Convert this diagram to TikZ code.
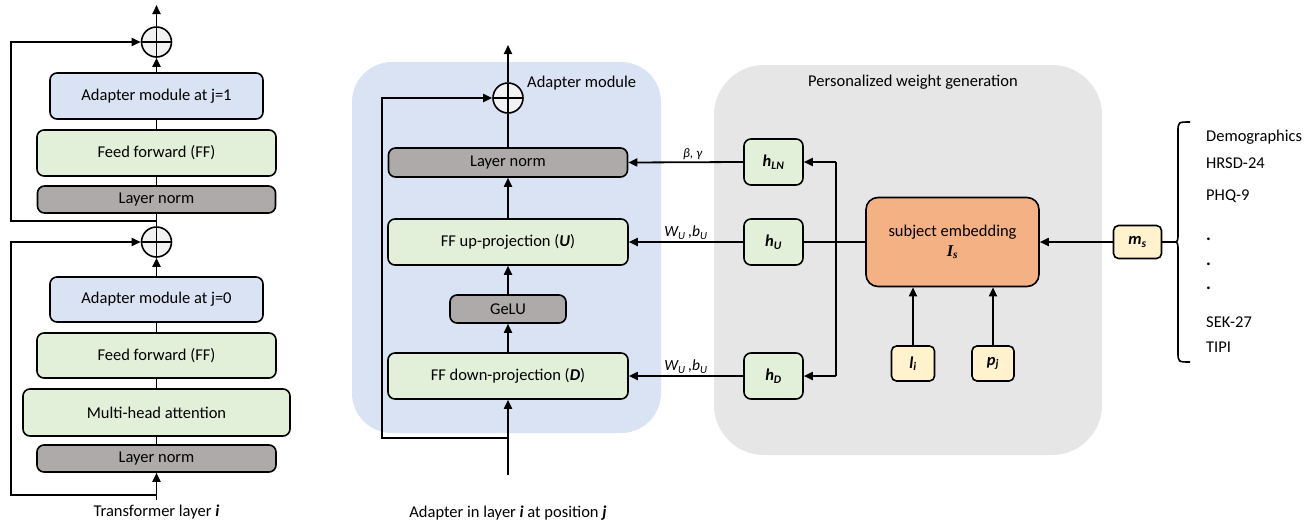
\documentclass[tikz,border=0pt]{standalone}
\usepackage{fontspec}
\setmainfont{Carlito}
\newfontfamily\tnr{Liberation Serif}
\usetikzlibrary{arrows.meta}
\definecolor{cblue}{HTML}{DAE3F3}
\definecolor{cpanel}{HTML}{DAE3F3}
\definecolor{cgreen}{HTML}{E2F0D9}
\definecolor{cgray}{HTML}{AEAAAA}
\definecolor{cgpanel}{HTML}{E6E6E6}
\definecolor{corange}{HTML}{F4B183}
\definecolor{cyellow}{HTML}{FFF2CC}
\definecolor{cplus}{HTML}{F2F2F2}
\tikzset{
  box/.style={draw, line width=1.6pt, rounded corners=7pt, align=center, inner sep=0pt, font=\fontsize{16.5}{19}\selectfont},
  bl/.style={box, fill=cblue},
  gr/.style={box, fill=cgreen},
  gy/.style={box, fill=cgray},
  yl/.style={box, fill=cyellow, rounded corners=5pt},
  pl/.style={circle, draw, line width=1.6pt, fill=cplus, minimum size=30pt, inner sep=0pt,
    path picture={\draw[line width=1.5pt] (path picture bounding box.north) -- (path picture bounding box.south) (path picture bounding box.west) -- (path picture bounding box.east);}},
  ln/.style={line width=1.8pt},
  ar/.style={line width=1.8pt, -{Triangle[length=9pt,width=8pt]}},
  txt/.style={font=\fontsize{16.5}{19}\selectfont, inner sep=0pt},
  elab/.style={font=\fontsize{15.5}{18}\selectfont\itshape, inner sep=2pt},
}
\begin{document}
\begin{tikzpicture}[x=1pt,y=-1pt]
\useasboundingbox (0,0) rectangle (1315,523);

% ---------------- left column ----------------
\node[pl] (plus1) at (156.5,42) {};
\node[bl, minimum width=213pt, minimum height=46pt] (adj1) at (156.5,96) {Adapter module at j=1};
\node[gr, minimum width=239pt, minimum height=46pt] (ff1) at (156.5,153) {Feed forward (FF)};
\node[gy, minimum width=238pt, minimum height=27pt] (ln1) at (156.5,199.5) {Layer norm};
\node[pl] (plus2) at (156.5,242) {};
\node[bl, minimum width=213pt, minimum height=45pt] (adj0) at (156.5,299.5) {Adapter module at j=0};
\node[gr, minimum width=239pt, minimum height=45pt] (ff0) at (156.5,355.5) {Feed forward (FF)};
\node[gr, minimum width=267pt, minimum height=47pt] (mha) at (156.5,412.5) {Multi-head attention};
\node[gy, minimum width=239pt, minimum height=27pt] (ln0) at (156.5,458.5) {Layer norm};
\node[txt] (tl) at (156.5,512) {Transformer layer \textbf{\textit{i}}};

\coordinate (top1) at (156.5,5);
\coordinate (in1) at (156.5,500);
\coordinate (j1) at (156.5,221);
\coordinate (j0) at (156.5,495);
\coordinate (skx) at (11,0);

\draw[ar] (plus1.north) -- (top1);
\draw[ar] (adj1.north) -- (plus1.south);
\draw[ln] (ff1.north) -- (adj1.south);
\draw[ln] (ln1.north) -- (ff1.south);
\draw[ln] (plus2.north) -- (ln1.south);
\draw[ar] (j1) -- (j1 -| skx) |- (plus1.west);
\draw[ar] (adj0.north) -- (plus2.south);
\draw[ln] (ff0.north) -- (adj0.south);
\draw[ln] (mha.north) -- (ff0.south);
\draw[ln] (ln0.north) -- (mha.south);
\draw[ar] (in1) -- (ln0.south);
\draw[ar] (j0) -- (j0 -| skx) |- (plus2.west);

% ---------------- middle panel ----------------
\fill[cpanel, rounded corners=40pt] (352,62) rectangle (661,433);
\node[pl] (plus3) at (508,98) {};
\node[txt, anchor=west] (amlab) at (527,83) {Adapter module};
\node[gy, minimum width=239pt, minimum height=29pt] (aln) at (508,162.5) {Layer norm};
\node[gr, minimum width=240pt, minimum height=46pt] (up) at (508,242) {FF up-projection (\textbf{\textit{U}})};
\node[gy, minimum width=116pt, minimum height=28pt] (gelu) at (508,309) {GeLU};
\node[gr, minimum width=240pt, minimum height=46pt] (down) at (508,376) {FF down-projection (\textbf{\textit{D}})};
\node[txt] (al) at (508,513) {Adapter in layer \textbf{\textit{i}} at position \textbf{\textit{j}}};

\coordinate (top2) at (508,45);
\coordinate (in2) at (508,475);
\coordinate (j2) at (508,438);
\coordinate (skx2) at (382,0);

\draw[ar] (plus3.north) -- (top2);
\draw[ln] (aln.north) -- (plus3.south);
\draw[ar] (up.north) -- (aln.south);
\draw[ar] (gelu.north) -- (up.south);
\draw[ar] (down.north) -- (gelu.south);
\draw[ar] (in2) -- (down.south);
\draw[ar] (j2) -- (j2 -| skx2) |- (plus3.west);

% ---------------- right panel ----------------
\fill[cgpanel, rounded corners=50pt] (714,65) rectangle (1102,455);
\node[txt] (pwg) at (913,82) {Personalized weight generation};
\node[gr, minimum width=59pt, minimum height=46pt] (hln) at (773.5,162) {\bfseries\itshape h\textsubscript{LN}};
\node[gr, minimum width=59pt, minimum height=46pt] (hu) at (773.5,242) {\bfseries\itshape h\textsubscript{U}};
\node[gr, minimum width=59pt, minimum height=46pt] (hd) at (773.5,376) {\bfseries\itshape h\textsubscript{D}};
\node[box, fill=corange, rounded corners=12pt, minimum width=173pt, minimum height=89pt] (subj) at (952.5,242)
  {subject embedding\\[1pt] {\tnr\bfseries\itshape I\textsubscript{s}}};
\node[yl, minimum width=43pt, minimum height=35pt] (li) at (913,363.5) {\bfseries\itshape l\textsubscript{i}};
\node[yl, minimum width=42pt, minimum height=35pt] (pj) at (993,363.5) {\bfseries\itshape p\textsubscript{j}};
\node[yl, minimum width=48pt, minimum height=33pt] (ms) at (1137.5,242) {\bfseries\itshape m\textsubscript{s}};

\coordinate (vx) at (836,0);
\draw[ln] (subj.west) -- (hu.east);
\draw[ln] (hln.east -| vx) -- (hd.east -| vx);
\draw[ar] (hln.east -| vx) -- (hln.east);
\draw[ar] (hd.east -| vx) -- (hd.east);
\draw[ar] (li.north) -- (li.north |- subj.south);
\draw[ar] (pj.north) -- (pj.north |- subj.south);
\draw[ar] (ms.west) -- (subj.east);

\draw[ar] (hln.west) -- node[pos=0.44, above, font=\fontsize{13}{15}\selectfont\itshape, inner sep=2pt] {β, γ} (aln.east);
\draw[ar] (hu.west) -- node[midway, above, elab] {W\textsubscript{U}\,,b\textsubscript{U}} (up.east);
\draw[ar] (hd.west) -- node[midway, above, elab] {W\textsubscript{U}\,,b\textsubscript{U}} (down.east);

% ---------------- brace and list ----------------
\coordinate (bt) at (1173,242);
\draw[ln] (ms.east) -- (bt);
\draw[line width=1.6pt] (1190,122) .. controls (1178,122) .. (1178,132) -- (1178,232)
  .. controls (1178,242) .. (bt) .. controls (1178,242) .. (1178,252) -- (1178,352)
  .. controls (1178,362) .. (1190,362);

\node[txt, anchor=west] (d1) at (1206,137) {Demographics};
\node[txt, anchor=west] (d2) at (1206,163) {HRSD-24};
\node[txt, anchor=west] (d3) at (1206,196) {PHQ-9};
\node[txt, anchor=base west, font=\fontsize{18}{20}\selectfont\bfseries] (d4) at (1206,240) {.};
\node[txt, anchor=base west, font=\fontsize{18}{20}\selectfont\bfseries] (d5) at (1206,265) {.};
\node[txt, anchor=base west, font=\fontsize{18}{20}\selectfont\bfseries] (d6) at (1206,289) {.};
\node[txt, anchor=west] (d7) at (1206,322) {SEK-27};
\node[txt, anchor=west] (d8) at (1206,347) {TIPI};
\end{tikzpicture}
\end{document}
